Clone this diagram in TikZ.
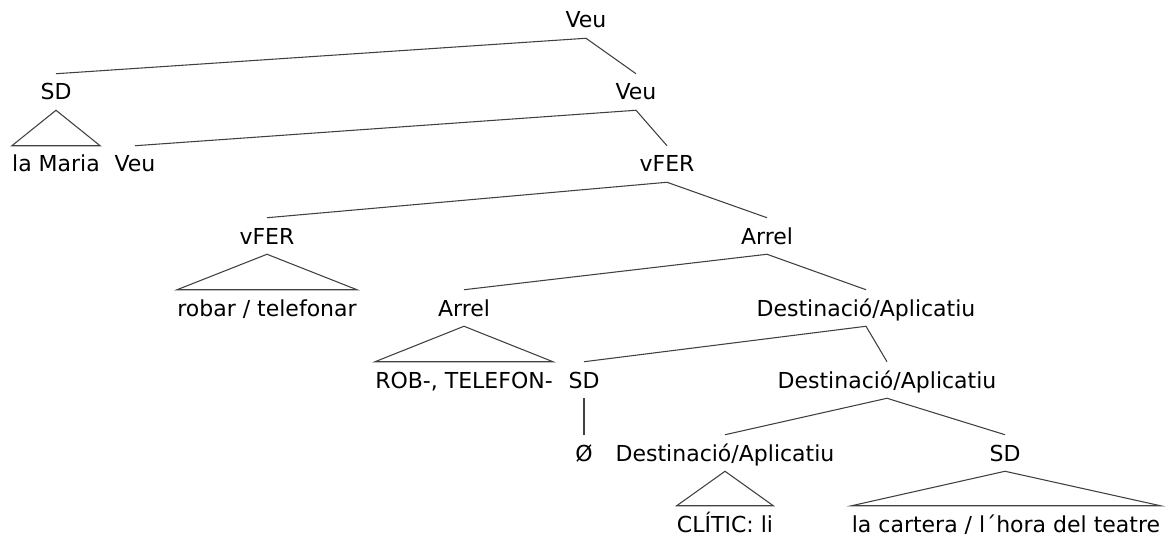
\documentclass[tikz,border=0pt]{standalone}
\usepackage{fontspec}
\setmainfont{DejaVu Sans}
\begin{document}
\begin{tikzpicture}[x=0.75pt,y=-0.75pt,
  lab/.style={inner xsep=0pt, inner ysep=7.5pt, text height=12pt, text depth=0pt,
              font=\fontsize{16.5}{20}\selectfont, text=black},
  br/.style={draw=black!75, line width=0.8pt, line join=miter}]
\useasboundingbox (0,0) rectangle (1170,538);
% nodes
\node[lab] (veu0)    at (586,20)  {Veu};
\node[lab] (sd1)     at (56,92)   {SD};
\node[lab] (veu1)    at (636,92)  {Veu};
\node[lab] (lamaria) at (56,164)  {la Maria};
\node[lab] (veu2)    at (135,164) {Veu};
\node[lab] (vfer2)   at (667,164) {vFER};
\node[lab] (vfer3)   at (267,236) {vFER};
\node[lab] (arrel3)  at (767,236) {Arrel};
\node[lab] (robar)   at (267,308) {robar / telefonar};
\node[lab] (arrel4)  at (464,308) {Arrel};
\node[lab] (dest4)   at (866,308) {Destinació/Aplicatiu};
\node[lab] (rob)     at (464,380) {ROB-, TELEFON-};
\node[lab] (sd5)     at (584,380) {SD};
\node[lab] (dest5)   at (887,380) {Destinació/Aplicatiu};
\node[lab] (zero)    at (584,453) {Ø};
\node[lab] (dest6)   at (725,453) {Destinació/Aplicatiu};
\node[lab] (sd6)     at (1005,453) {SD};
\node[lab] (clitic)  at (725,524) {CLÍTIC: li};
\node[lab] (cartera) at (1006,524) {la cartera / l´hora del teatre};
% branches
\draw[br] (sd1.north) -- (veu0.south) -- (veu1.north);
\draw[br] (veu2.north) -- (veu1.south) -- (vfer2.north);
\draw[br] (vfer3.north) -- (vfer2.south) -- (arrel3.north);
\draw[br] (arrel4.north) -- (arrel3.south) -- (dest4.north);
\draw[br] (sd5.north) -- (dest4.south) -- (dest5.north);
\draw[br] (dest6.north) -- (dest5.south) -- (sd6.north);
\draw[br] (sd5.south) -- (zero.north);
% triangles
\draw[br] (sd1.south) -- (lamaria.north west) -- (lamaria.north east) -- cycle;
\draw[br] (vfer3.south) -- (robar.north west) -- (robar.north east) -- cycle;
\draw[br] (arrel4.south) -- (rob.north west) -- (rob.north east) -- cycle;
\draw[br] (dest6.south) -- (clitic.north west) -- (clitic.north east) -- cycle;
\draw[br] (sd6.south) -- (cartera.north west) -- (cartera.north east) -- cycle;
\end{tikzpicture}
\end{document}
